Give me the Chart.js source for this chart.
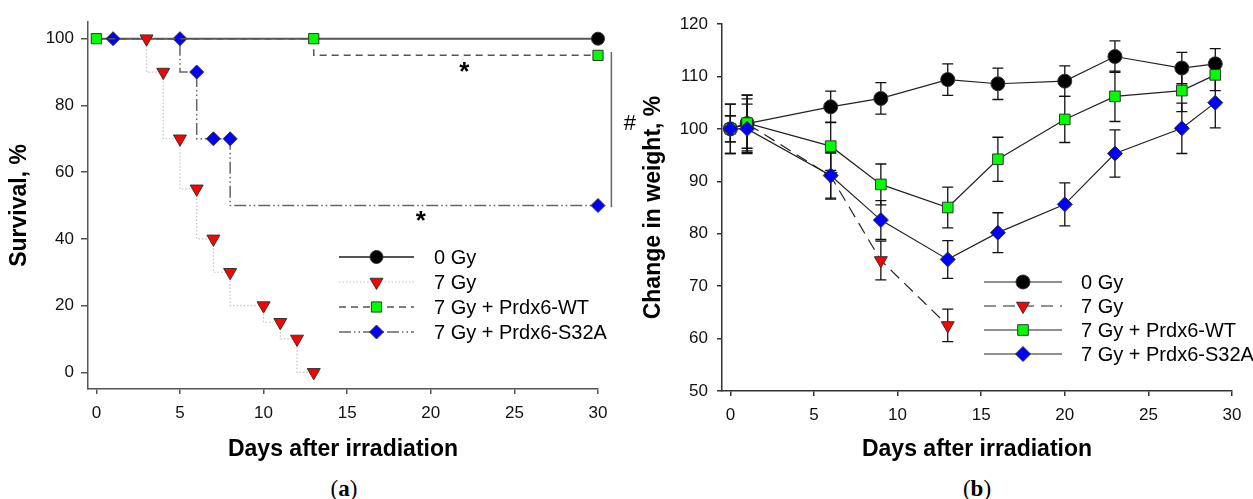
<!DOCTYPE html>
<html>
<head>
<meta charset="utf-8">
<title>Survival and weight after irradiation</title>
<script src="https://cdn.jsdelivr.net/npm/chart.js@4.4.1/dist/chart.umd.min.js"></script>
<style>
  html, body { margin: 0; padding: 0; background: #fff; }
  body { width: 1253px; height: 499px; position: relative; overflow: hidden; }
  .panel { position: absolute; top: 0; height: 499px; }
  #panelA { left: 0; width: 640px; z-index: 2; }
  #panelB { left: 626px; width: 627px; z-index: 1; }
  .caption {
    position: absolute; top: 477px; line-height: 23px;
    font-family: "Liberation Serif", "Times New Roman", serif; font-size: 23px;
    transform: translateX(-50%); color: #000;
  }
</style>
</head>
<body>
<div class="panel" id="panelA"><canvas id="survivalChart" width="640" height="499"></canvas></div>
<div class="panel" id="panelB"><canvas id="weightChart" width="627" height="499"></canvas></div>
<div class="caption" style="left:344px">(<b>a</b>)</div>
<div class="caption" style="left:977px">(<b>b</b>)</div>

<script>
const seriesLabels = ["0 Gy", "7 Gy", "7 Gy + Prdx6-WT", "7 Gy + Prdx6-S32A"];
const dayTicks = [0, 5, 10, 15, 20, 25, 30];

// (a) survival, Kaplan-Meier steps
const survDays0 = [0, 30];
const surv0 = [100, 100];
const survDays7 = [3, 4, 5, 6, 7, 8, 10, 11, 12, 13];
const surv7 = [100, 90, 70, 55, 40, 30, 20, 15, 10, 0];
const survDaysWT = [0, 13, 30];
const survWT = [100, 100, 95];
const survDaysS32A = [1, 5, 6, 7, 8, 30];
const survS32A = [100, 100, 90, 70, 70, 50];
const survivalTicks = [0, 20, 40, 60, 80, 100];

// significance marks on (a)
const sigText = ["*", "*", "#"];
const sigDay = [22, 19.4, 31.9];
const sigValue = [92, 47.5, 75];
const bracketDay = 30.8;
const bracketSpan = [96, 49.5];

// (b) weight change, mean and error
const weightDays = [0, 1, 6, 9, 13, 16, 20, 23, 27, 29];
const weightDays7 = [0, 1, 6, 9, 13];
const weight0 = [100, 101, 104.2, 105.8, 109.4, 108.6, 109.1, 113.8, 111.6, 112.4];
const weight0Err = [4.7, 5.5, 3.0, 3.0, 3.0, 3.0, 2.9, 3.0, 3.0, 2.9];
const weight7 = [100, 101, 91, 74.9, 62.5];
const weight7Err = [2.5, 4.7, 4.4, 3.7, 3.1];
const weightWT = [100, 101.1, 96.7, 89.4, 85.0, 94.2, 101.8, 106.2, 107.3, 110.3];
const weightWTErr = [4.7, 5.3, 4.6, 3.9, 3.9, 4.2, 4.4, 4.8, 4.0, 3.0];
const weightS32A = [100, 100, 91.1, 82.6, 75.1, 80.2, 85.6, 95.3, 100.1, 105.0];
const weightS32AErr = [2.5, 4.7, 4.3, 3.7, 3.6, 3.8, 4.1, 4.5, 4.8, 4.8];
const weightTicks = [50, 60, 70, 80, 90, 100, 110, 120];

const FONT = '"Liberation Sans", Arial, sans-serif';
Chart.defaults.font.family = FONT;
Chart.defaults.color = "#111";

function pts(days, values) {
  return days.map((d, i) => ({ x: d, y: values[i] }));
}

function marker(style, radius, fill, rotation) {
  return {
    pointStyle: style,
    pointRadius: radius,
    pointHoverRadius: radius,
    pointRotation: rotation || 0,
    pointBackgroundColor: fill,
    pointBorderColor: "#333",
    pointBorderWidth: 1,
  };
}

// legend drawn inside the plot, rows given in canvas pixels
function legendPlugin(x0, x1, textX, rows, fontSize) {
  return {
    id: "innerLegend",
    afterDraw(chart) {
      const ctx = chart.ctx;
      const mid = (x0 + x1) / 2;
      chart.data.datasets.forEach((ds, i) => {
        const y = rows[i];
        ctx.save();
        ctx.strokeStyle = ds.borderColor;
        ctx.lineWidth = ds.borderWidth;
        ctx.setLineDash(ds.borderDash || []);
        ctx.beginPath();
        ctx.moveTo(x0, y);
        ctx.lineTo(x1, y);
        ctx.stroke();
        ctx.setLineDash([]);
        ctx.fillStyle = ds.pointBackgroundColor;
        ctx.strokeStyle = ds.pointBorderColor;
        ctx.lineWidth = ds.pointBorderWidth;
        const r = typeof ds.legendRadius === "number" ? ds.legendRadius : 7;
        Chart.helpers.drawPoint(ctx, {
          pointStyle: ds.pointStyle, radius: r, rotation: ds.pointRotation, borderWidth: ds.pointBorderWidth,
        }, mid, y);
        ctx.fillStyle = "#000";
        ctx.font = `${fontSize}px ${FONT}`;
        ctx.textAlign = "left";
        ctx.textBaseline = "middle";
        ctx.fillText(ds.label, textX, y + 1);
        ctx.restore();
      });
    },
  };
}

const significancePlugin = {
  id: "significance",
  afterDraw(chart) {
    const { ctx, scales: { x, y } } = chart;
    ctx.save();
    ctx.strokeStyle = "#666";
    ctx.lineWidth = 1.5;
    const bx = x.getPixelForValue(bracketDay);
    ctx.beginPath();
    ctx.moveTo(bx, y.getPixelForValue(bracketSpan[0]));
    ctx.lineTo(bx, y.getPixelForValue(bracketSpan[1]));
    ctx.stroke();
    ctx.fillStyle = "#000";
    ctx.textAlign = "center";
    ctx.textBaseline = "alphabetic";
    sigText.forEach((t, i) => {
      const star = t === "*";
      const size = star ? 26 : 22;
      ctx.font = `${star ? "bold " : ""}${size}px ${FONT}`;
      const shift = star ? 0.57 : 0.36;
      ctx.fillText(t, x.getPixelForValue(sigDay[i]), y.getPixelForValue(sigValue[i]) + shift * size);
    });
    ctx.restore();
  },
};

const errorBarPlugin = {
  id: "errorBars",
  beforeDatasetsDraw(chart) {
    const { ctx, scales: { y } } = chart;
    ctx.save();
    ctx.strokeStyle = "#111";
    ctx.lineWidth = 1.3;
    chart.data.datasets.forEach((ds, i) => {
      const meta = chart.getDatasetMeta(i);
      meta.data.forEach((pt, j) => {
        const v = ds.data[j].y;
        const err = ds.errors[j];
        const top = y.getPixelForValue(v + err);
        const bot = y.getPixelForValue(v - err);
        ctx.beginPath();
        ctx.moveTo(pt.x, top); ctx.lineTo(pt.x, bot);
        ctx.moveTo(pt.x - 5.5, top); ctx.lineTo(pt.x + 5.5, top);
        ctx.moveTo(pt.x - 5.5, bot); ctx.lineTo(pt.x + 5.5, bot);
        ctx.stroke();
      });
    });
    ctx.restore();
  },
};

function axes(opts) {
  return {
    x: {
      type: "linear", min: -0.5, max: 30,
      afterBuildTicks: (s) => { s.ticks = dayTicks.map((v) => ({ value: v })); },
      afterFit: (s) => { s.height = opts.xHeight; },
      grid: { drawOnChartArea: false, drawTicks: true, tickLength: 5, color: opts.axisColor, lineWidth: 1.5 },
      border: { color: opts.axisColor, width: 1.5 },
      ticks: { font: { size: 17 }, padding: 9, maxRotation: 0, color: "#111" },
      title: { display: true, text: "Days after irradiation", color: "#000",
        font: { size: 23, weight: "bold" }, padding: { top: 0, bottom: 36 } },
    },
    y: {
      min: opts.yMin, max: opts.yMax,
      afterBuildTicks: (s) => { s.ticks = opts.yTicks.map((v) => ({ value: v })); },
      afterFit: (s) => { s.width = opts.yWidth; },
      grid: { drawOnChartArea: false, drawTicks: true, tickLength: opts.yTickLen, color: opts.axisColor, lineWidth: 1.5 },
      border: { color: opts.axisColor, width: 1.5 },
      ticks: { font: { size: 17 }, padding: opts.yPad, color: "#111" },
      title: { display: true, text: opts.yTitle, color: "#000",
        font: { size: 23, weight: "bold" }, padding: { top: opts.yTitlePad, bottom: 0 } },
    },
  };
}

const commonOptions = {
  responsive: false,
  animation: false,
  events: [],
  plugins: { legend: { display: false }, tooltip: { enabled: false } },
};

new Chart(document.getElementById("survivalChart"), {
  type: "line",
  data: {
    datasets: [
      { label: seriesLabels[0], data: pts(survDays0, surv0), order: 4, stepped: "after", clip: false,
        borderColor: "#555", borderWidth: 2, ...marker("circle", 6.5, "#000"),
        pointRadius: (c) => (c.dataIndex === 0 ? 0 : 6.5), legendRadius: 6.5 },
      { label: seriesLabels[1], data: pts(survDays7, surv7), order: 1, stepped: "after", clip: false,
        borderColor: "#c4c4c4", borderWidth: 1.2, borderDash: [1.5, 2], ...marker("triangle", 7.5, "#ff0000", 180), legendRadius: 7.5 },
      { label: seriesLabels[2], data: pts(survDaysWT, survWT), order: 2, stepped: "after", clip: false,
        borderColor: "#555", borderWidth: 1.5, borderDash: [7, 5], ...marker("rect", 7.2, "#00ff00"), legendRadius: 7.2 },
      { label: seriesLabels[3], data: pts(survDaysS32A, survS32A), order: 3, stepped: "after", clip: false,
        borderColor: "#666", borderWidth: 1.5, borderDash: [12, 3, 1.5, 3, 1.5, 3], ...marker("rectRot", 7, "#0000ff"), legendRadius: 7 },
    ],
  },
  options: {
    ...commonOptions,
    layout: { padding: { top: 22, right: 42, left: 0, bottom: 0 } },
    scales: axes({ xHeight: 110, axisColor: "#555", yMin: -5, yMax: 105, yTicks: survivalTicks, yWidth: 88,
      yTickLen: 7, yPad: 7, yTitle: "Survival, %", yTitlePad: 6 }),
  },
  plugins: [significancePlugin, legendPlugin(339, 414, 434, [257, 282, 307, 332], 20)],
});

new Chart(document.getElementById("weightChart"), {
  type: "line",
  data: {
    datasets: [
      { label: seriesLabels[0], data: pts(weightDays, weight0), errors: weight0Err, order: 4, clip: false,
        borderColor: "#222", borderWidth: 1.2, ...marker("circle", 7, "#000"), legendRadius: 7 },
      { label: seriesLabels[1], data: pts(weightDays7, weight7), errors: weight7Err, order: 3, clip: false,
        borderColor: "#222", borderWidth: 1.2, borderDash: [12, 7], ...marker("triangle", 7.5, "#ff0000", 180), legendRadius: 7.5 },
      { label: seriesLabels[2], data: pts(weightDays, weightWT), errors: weightWTErr, order: 2, clip: false,
        borderColor: "#222", borderWidth: 1.2, ...marker("rect", 7.5, "#00ff00"), legendRadius: 7.5 },
      { label: seriesLabels[3], data: pts(weightDays, weightS32A), errors: weightS32AErr, order: 1, clip: false,
        borderColor: "#222", borderWidth: 1.2, ...marker("rectRot", 7.5, "#0000ff"), legendRadius: 7.5 },
    ],
  },
  options: {
    ...commonOptions,
    layout: { padding: { top: 24, right: 21, left: 0, bottom: 0 } },
    scales: axes({ xHeight: 108, axisColor: "#333", yMin: 50, yMax: 120, yTicks: weightTicks, yWidth: 96,
      yTickLen: 5, yPad: 9, yTitle: "Change in weight, %", yTitlePad: 14 }),
  },
  plugins: [errorBarPlugin, legendPlugin(358, 436, 455, [282, 306, 330, 354], 20)],
});
</script>
</body>
</html>
